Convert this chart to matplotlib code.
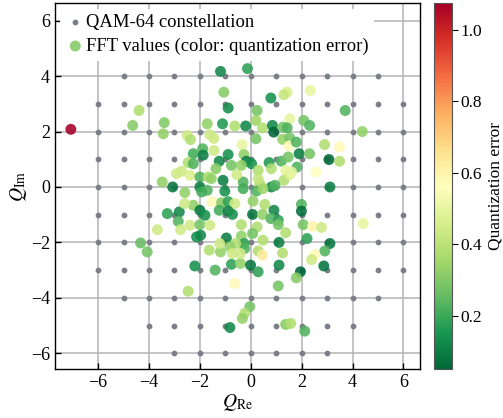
import numpy as np
import matplotlib
matplotlib.use("Agg")
import matplotlib.pyplot as plt

plt.rcParams['font.family'] = ['Liberation Serif', 'DejaVu Serif']
plt.rcParams['mathtext.fontset'] = 'stix'
plt.rcParams['axes.unicode_minus'] = True

# constellation rows: imaginary level and half-width of the row (integer grid)
qam_rows = [-6, -5, -4, -3, -2, -1, 0, 1, 2, 3, 4, 5, 6]
qam_half = [3, 4, 5, 6, 6, 6, 6, 6, 6, 6, 5, 4, 3]

fft_re = [
    -3.40, -7.07, -4.39, -4.64, -3.44, -1.71, -2.50, -2.37, -1.61, -1.45,
    -1.89, -2.26, -1.87, -2.46, -2.26, -2.72, -2.92, -2.39, -2.00, -1.67,
    -1.55, -3.48, -3.07, -2.00, -1.71, -2.59, -1.93,
    -1.19, -0.13, -1.06, 1.43, 1.30, 0.79, -0.89, 0.25, 1.53, -1.11,
    -0.63, -0.20, 0.20, 0.46, 0.85, 0.90, 1.27, 1.43, 0.20, 1.25,
    1.53, -0.34, 1.51, -1.45, -0.89, -0.27, -1.24, -0.76, -0.17, 0.03,
    0.72, 1.20, 1.47, -0.37, 0.29, 0.81, 1.37, -1.09, -0.30, 0.35,
    0.81, -1.02, 0.22, 1.30, -1.37, 0.29, 0.48, -0.30, -0.55, 1.53, 0.95,
    2.34, 3.71, 2.08, 2.31, 4.38, 2.90, 3.49, 1.79, 1.90, 2.31,
    3.07, 3.49, 1.82, 2.56, 3.11, 1.60,
    -4.33, -4.07, -3.67, -3.28, -2.81, -2.85, -2.76, -2.39, -2.26, -2.00,
    -1.80, -2.00, -1.61, -2.13, -1.97, -1.63, -2.20, -2.46, -2.60, -1.52,
    -1.15, -0.89, -0.63, -1.40, -1.19,
    -1.24, -0.89, -0.72, 0.09, 0.07, 0.46, 0.55, 0.91, 0.79, 1.08,
    1.08, 1.37, -0.37, 0.25, -0.96, -0.37, 0.07, -0.26, -0.24, -0.59,
    0.48, 1.11, -1.22, -0.82, -0.72, 0.29, 0.46, 1.25, -0.76, -0.41,
    -0.01, 0.29, 1.11, -0.63, 1.08, -0.04, -0.24, -0.33, -0.82, 1.37,
    1.57, -0.41,
    1.99, 1.99, 2.06, 2.43, 2.78, 4.42, 2.21, 3.11, 2.91, 2.52,
    2.39, 2.87, 1.95, 1.79, 2.12,
]
fft_im = [
    2.32, 2.08, 2.76, 2.22, 1.92, 2.28, 1.86, 1.71, 1.89, 1.75,
    1.38, 1.20, 1.15, 0.88, 0.84, 0.57, 0.48, 0.42, 0.36, 0.36,
    0.30, 0.18, 0.00, 0.00, -0.12, -0.20, -0.18,
    4.17, 4.27, 3.42, 3.42, 3.33, 3.21, 2.85, 2.76, 2.46, 2.28,
    2.20, 2.20, 2.40, 2.13, 2.22, 1.98, 2.16, 2.13, 1.74, 1.72,
    1.77, 1.53, 1.48, 1.32, 1.17, 1.17, 0.93, 0.78, 0.93, 0.84,
    0.88, 0.93, 1.08, 0.78, 0.60, 0.66, 0.60, 0.24, 0.18, 0.12,
    0.00, -0.15, -0.15, 0.24, 0.66, 0.30, -0.06, -0.06, 0.45, 0.45, 0.06,
    3.48, 2.76, 2.40, 2.22, 2.00, 1.53, 1.44, 1.62, 1.20, 1.20,
    0.99, 0.93, 0.72, 0.54, 0.00, 0.54,
    -2.02, -2.34, -1.54, -0.96, -0.90, -1.24, -1.54, -1.38, -0.66, -0.84,
    -1.02, -1.36, -1.38, -1.80, -1.74, -2.28, -2.85, -3.76, -0.60, -0.53,
    -0.57, -0.53, -0.60, -3.00, -2.34,
    -0.84, -0.87, -0.99, -0.51, -0.99, -0.99, -0.63, -0.84, -1.14, -1.20,
    -1.36, -1.65, -1.36, -1.44, -1.84, -1.77, -1.68, -2.04, -2.22, -2.04,
    -1.92, -2.00, -2.04, -2.16, -2.40, -2.31, -2.46, -2.38, -2.79, -2.76,
    -2.82, -3.06, -2.82, -3.48, -3.57, -4.32, -4.56, -4.74, -5.07, -4.96,
    -4.92, -2.40,
    -0.63, -0.87, -1.36, -1.42, -1.46, -1.32, -1.86, -2.04, -2.31, -2.44,
    -2.62, -2.85, -3.06, -3.28, -5.20,
]
fft_err = [
    0.30, 1.075, 0.38, 0.31, 0.33, 0.33, 0.44, 0.38, 0.44, 0.44,
    0.23, 0.21, 0.10, 0.38, 0.23, 0.44, 0.44, 0.47, 0.23, 0.38,
    0.33, 0.33, 0.08, 0.10, 0.23, 0.33, 0.21,
    0.12, 0.18, 0.31, 0.47, 0.42, 0.14, 0.13, 0.28, 0.50, 0.16,
    0.38, 0.12, 0.35, 0.38, 0.12, 0.05, 0.28, 0.23, 0.28, 0.33,
    0.28, 0.50, 0.58, 0.44, 0.14, 0.33, 0.12, 0.28, 0.10, 0.14,
    0.16, 0.23, 0.28, 0.33, 0.38, 0.38, 0.50, 0.10, 0.23, 0.38,
    0.12, 0.14, 0.23, 0.38, 0.31, 0.42, 0.35, 0.21, 0.44, 0.47, 0.23,
    0.50, 0.23, 0.28, 0.23, 0.33, 0.38, 0.58, 0.23, 0.10, 0.28,
    0.05, 0.38, 0.23, 0.56, 0.10, 0.50,
    0.26, 0.28, 0.44, 0.18, 0.12, 0.23, 0.44, 0.44, 0.33, 0.08,
    0.14, 0.28, 0.44, 0.14, 0.12, 0.38, 0.14, 0.38, 0.44, 0.58,
    0.31, 0.18, 0.44, 0.23, 0.33,
    0.21, 0.10, 0.14, 0.33, 0.08, 0.33, 0.38, 0.12, 0.23, 0.18,
    0.28, 0.38, 0.38, 0.38, 0.10, 0.33, 0.28, 0.18, 0.23, 0.38,
    0.38, 0.10, 0.44, 0.33, 0.44, 0.38, 0.63, 0.38, 0.18, 0.33,
    0.08, 0.18, 0.12, 0.58, 0.28, 0.28, 0.38, 0.33, 0.12, 0.31,
    0.38, 0.44,
    0.23, 0.07, 0.28, 0.60, 0.44, 0.50, 0.18, 0.08, 0.23, 0.58,
    0.44, 0.08, 0.05, 0.31, 0.23,
]

qam_re, qam_im = [], []
for y, h in zip(qam_rows, qam_half):
    for x in range(-h, h + 1):
        qam_re.append(x)
        qam_im.append(y)

fig = plt.figure(figsize=(5.03, 4.18), dpi=100)
ax = fig.add_axes([0.109, 0.117, 0.726, 0.876])
cax = fig.add_axes([0.863, 0.117, 0.036, 0.876])

ax.scatter(qam_re, qam_im, s=10, color='#7c7f88', zorder=2,
           label='QAM-64 constellation')
sc = ax.scatter(fft_re, fft_im, c=fft_err, cmap='RdYlGn_r', s=62,
                alpha=0.88, edgecolors='none', zorder=3,
                label='FFT values (color: quantization error)')

ax.set_xlim(-7.7, 6.65)
ax.set_ylim(-6.57, 6.64)
ax.set_xticks([-6, -4, -2, 0, 2, 4, 6])
ax.set_yticks([-6, -4, -2, 0, 2, 4, 6])
ax.grid(True, color='#b4b4b8', linewidth=1.1, zorder=0)
ax.set_axisbelow(True)
ax.tick_params(direction='in', labelsize=13, length=4, width=1)
for sp in ax.spines.values():
    sp.set_linewidth(1.0)
ax.set_xlabel(r'$Q_{\mathrm{Re}}$', fontsize=14, labelpad=1)
ax.set_ylabel(r'$Q_{\mathrm{Im}}$', fontsize=14, labelpad=1)

leg = ax.legend(loc='upper left', fontsize=13.4, handletextpad=0.05,
                borderaxespad=0.3, borderpad=0.3, labelspacing=0.35,
                handlelength=1.0, framealpha=1.0, fancybox=False)
leg.get_frame().set_edgecolor('none')
leg.set_zorder(5)

cb = fig.colorbar(sc, cax=cax)
cb.solids.set_alpha(1)
cb.set_label('Quantization error', fontsize=12.5, labelpad=4)
cb.ax.tick_params(labelsize=12.5, length=4, pad=2)
cb.outline.set_edgecolor('#555555')

fig.savefig('out.png', dpi=100)
